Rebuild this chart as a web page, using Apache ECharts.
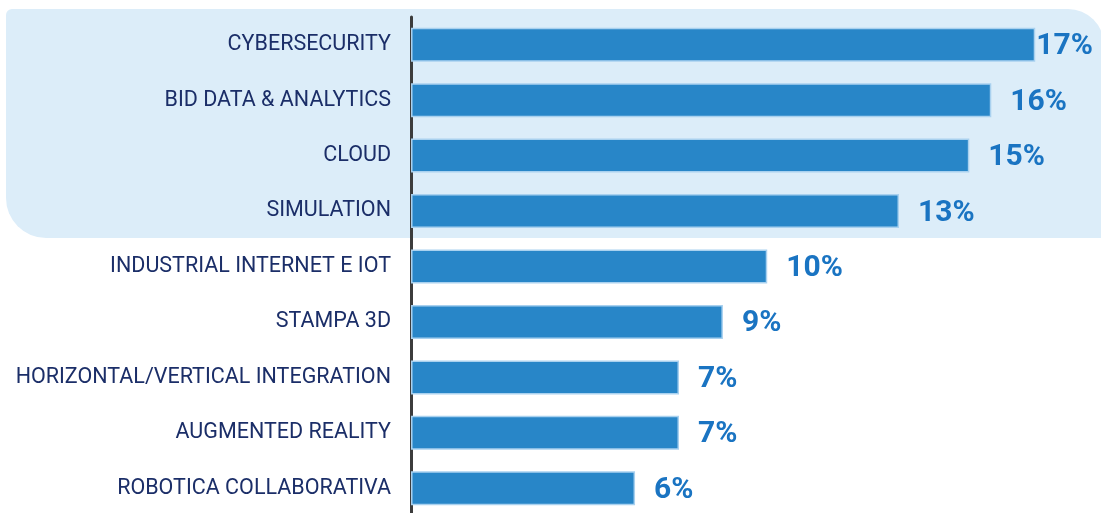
<!DOCTYPE html>
<html>
<head>
    <meta charset="utf-8">
    <title>ECharts</title>
    <script src="https://cdn.jsdelivr.net/npm/echarts@6/dist/echarts.min.js"></script>
    <style>
    *{margin:0px; padding:0px;}
    body{background:#fff;}
    </style>
</head>
<body>
    <div id="main" style="width: 1101px;height:513px;"></div>
    <script type="text/javascript">
        var categories = ['CYBERSECURITY', 'BID DATA & ANALYTICS', 'CLOUD', 'SIMULATION',
            'INDUSTRIAL INTERNET E IOT', 'STAMPA 3D', 'HORIZONTAL/VERTICAL INTEGRATION',
            'AUGMENTED REALITY', 'ROBOTICA COLLABORATIVA'];
        // bar lengths
        var values = [17.05, 15.85, 15.25, 13.33, 9.73, 8.52, 7.32, 7.32, 6.12];
        // the printed labels
        var labels = ['17%', '16%', '15%', '13%', '10%', '9%', '7%', '7%', '6%'];

        var myChart = echarts.init(document.getElementById('main'));

        var data = values.map(function (v, i) {
            var item = { value: v };
            if (i === 0) {
                item.label = { distance: 1 };
            }
            return item;
        });

        var option = {
            backgroundColor: '#ffffff',
            textStyle: { fontFamily: 'Roboto' },
            graphic: [{
                type: 'rect',
                z: -10,
                silent: true,
                shape: { x: 6, y: 9, width: 1098, height: 229, r: [6, 36, 0, 40] },
                style: { fill: '#dcedf9' }
            }],
            grid: {
                left: 411,
                right: 31,
                top: 17,
                bottom: -3,
                outerBoundsMode: 'none'
            },
            xAxis: {
                type: 'value',
                min: 0,
                max: 18,
                show: false
            },
            yAxis: {
                type: 'category',
                data: categories,
                inverse: true,
                axisLine: { show: true, lineStyle: { color: '#3c3c3c', width: 3 } },
                axisTick: { show: false },
                axisLabel: {
                    color: '#1b2e68',
                    fontSize: 21.5,
                    margin: 20,
                    padding: [6, 0, 0, 0],
                    fontFamily: 'Roboto'
                }
            },
            series: [{
                type: 'bar',
                data: data,
                barWidth: 34,
                itemStyle: {
                    color: '#2886c8',
                    borderColor: '#a9d1ef',
                    borderWidth: 1.5
                },
                label: {
                    show: true,
                    position: 'right',
                    distance: 19,
                    offset: [0, 2],
                    color: '#1a74c2',
                    fontSize: 30,
                    fontWeight: 'bold',
                    fontFamily: 'Roboto',
                    formatter: function (p) {
                        return labels[p.dataIndex];
                    }
                }
            }]
        };

        myChart.setOption(option);
    </script>
</body>
</html>
